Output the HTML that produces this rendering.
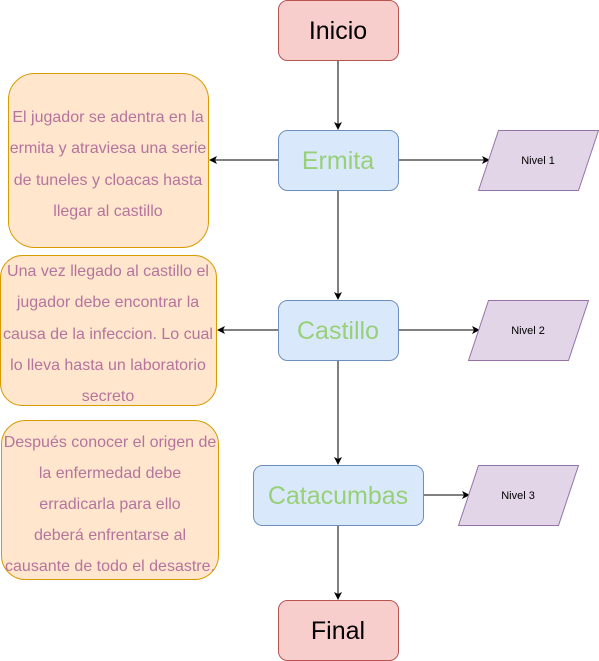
<!DOCTYPE html>
<html><head><meta charset="utf-8"><style>body{margin:0;background:#fff}svg{display:block}</style></head><body>
<svg width="599" height="661" viewBox="0 0 599 661" xmlns="http://www.w3.org/2000/svg" font-family="Liberation Sans, sans-serif">
<defs><marker id="a" markerWidth="8" markerHeight="8" refX="7" refY="4" orient="auto" markerUnits="userSpaceOnUse"><path d="M0,0 L8,4 L0,8 L2,4 Z" fill="#000"/></marker></defs>
<g stroke="#000" stroke-width="1" fill="none" marker-end="url(#a)">
<line x1="338" y1="60" x2="338" y2="129"/>
<line x1="338" y1="190" x2="338" y2="299"/>
<line x1="338" y1="360" x2="338" y2="464"/>
<line x1="338" y1="525" x2="338" y2="599"/>
<line x1="278" y1="160" x2="210" y2="160"/>
<line x1="278" y1="330" x2="218" y2="330"/>
<line x1="398" y1="160" x2="489" y2="160"/>
<line x1="398" y1="330" x2="479" y2="330"/>
<line x1="423" y1="495" x2="469" y2="495"/>
</g>
<g stroke-width="1">
<rect x="278.5" y="0.5" width="120" height="60" rx="9" fill="#f8cecc" stroke="#b85450"/>
<rect x="278.5" y="600.5" width="120" height="60" rx="9" fill="#f8cecc" stroke="#b85450"/>
<rect x="278.5" y="130.5" width="120" height="60" rx="9" fill="#dae8fc" stroke="#6c8ebf"/>
<rect x="278.5" y="300.5" width="120" height="60" rx="9" fill="#dae8fc" stroke="#6c8ebf"/>
<rect x="253.5" y="465.5" width="170" height="60" rx="9" fill="#dae8fc" stroke="#6c8ebf"/>
<rect x="8.5" y="73.5" width="200" height="174" rx="26" fill="#ffe6cc" stroke="#d79b00"/>
<rect x="0.5" y="255.5" width="216" height="150" rx="22" fill="#ffe6cc" stroke="#d79b00"/>
<rect x="1.5" y="420.5" width="217" height="159" rx="24" fill="#ffe6cc" stroke="#d79b00"/>
<polygon points="498.5,130.5 598.5,130.5 578.5,190.5 478.5,190.5" fill="#e1d5e7" stroke="#9673a6"/>
<polygon points="488.5,300.5 588.5,300.5 568.5,360.5 468.5,360.5" fill="#e1d5e7" stroke="#9673a6"/>
<polygon points="478.5,465.5 578.5,465.5 558.5,525.5 458.5,525.5" fill="#e1d5e7" stroke="#9673a6"/>
</g>
<g text-anchor="middle" font-size="25">
<text x="338" y="39" fill="#000">Inicio</text>
<text x="338" y="639" fill="#000">Final</text>
<text x="338" y="169" fill="#97d077">Ermita</text>
<text x="338" y="339" fill="#97d077">Castillo</text>
<text x="338" y="504" fill="#97d077">Catacumbas</text>
</g>
<g text-anchor="middle" font-size="11" fill="#000">
<text x="538" y="164">Nivel 1</text>
<text x="528" y="334">Nivel 2</text>
<text x="518" y="499">Nivel 3</text>
</g>
<g text-anchor="middle" font-size="16" fill="#b5739d">
<text x="108" y="122">El jugador se adentra en la</text>
<text x="108" y="153">ermita y atraviesa una serie</text>
<text x="108" y="185">de tuneles y cloacas hasta</text>
<text x="108" y="216">llegar al castillo</text>
<text x="108" y="276">Una vez llegado al castillo el</text>
<text x="108" y="307">jugador debe encontrar la</text>
<text x="108" y="339">causa de la infeccion. Lo cual</text>
<text x="108" y="370">lo lleva hasta un laboratorio</text>
<text x="108" y="401">secreto</text>
<text x="110" y="447">Después conocer el origen de</text>
<text x="110" y="478">la enfermedad debe</text>
<text x="110" y="509">erradicarla para ello</text>
<text x="110" y="540">deberá enfrentarse al</text>
<text x="110" y="571">causante de todo el desastre.</text>
</g>
</svg>
</body></html>
